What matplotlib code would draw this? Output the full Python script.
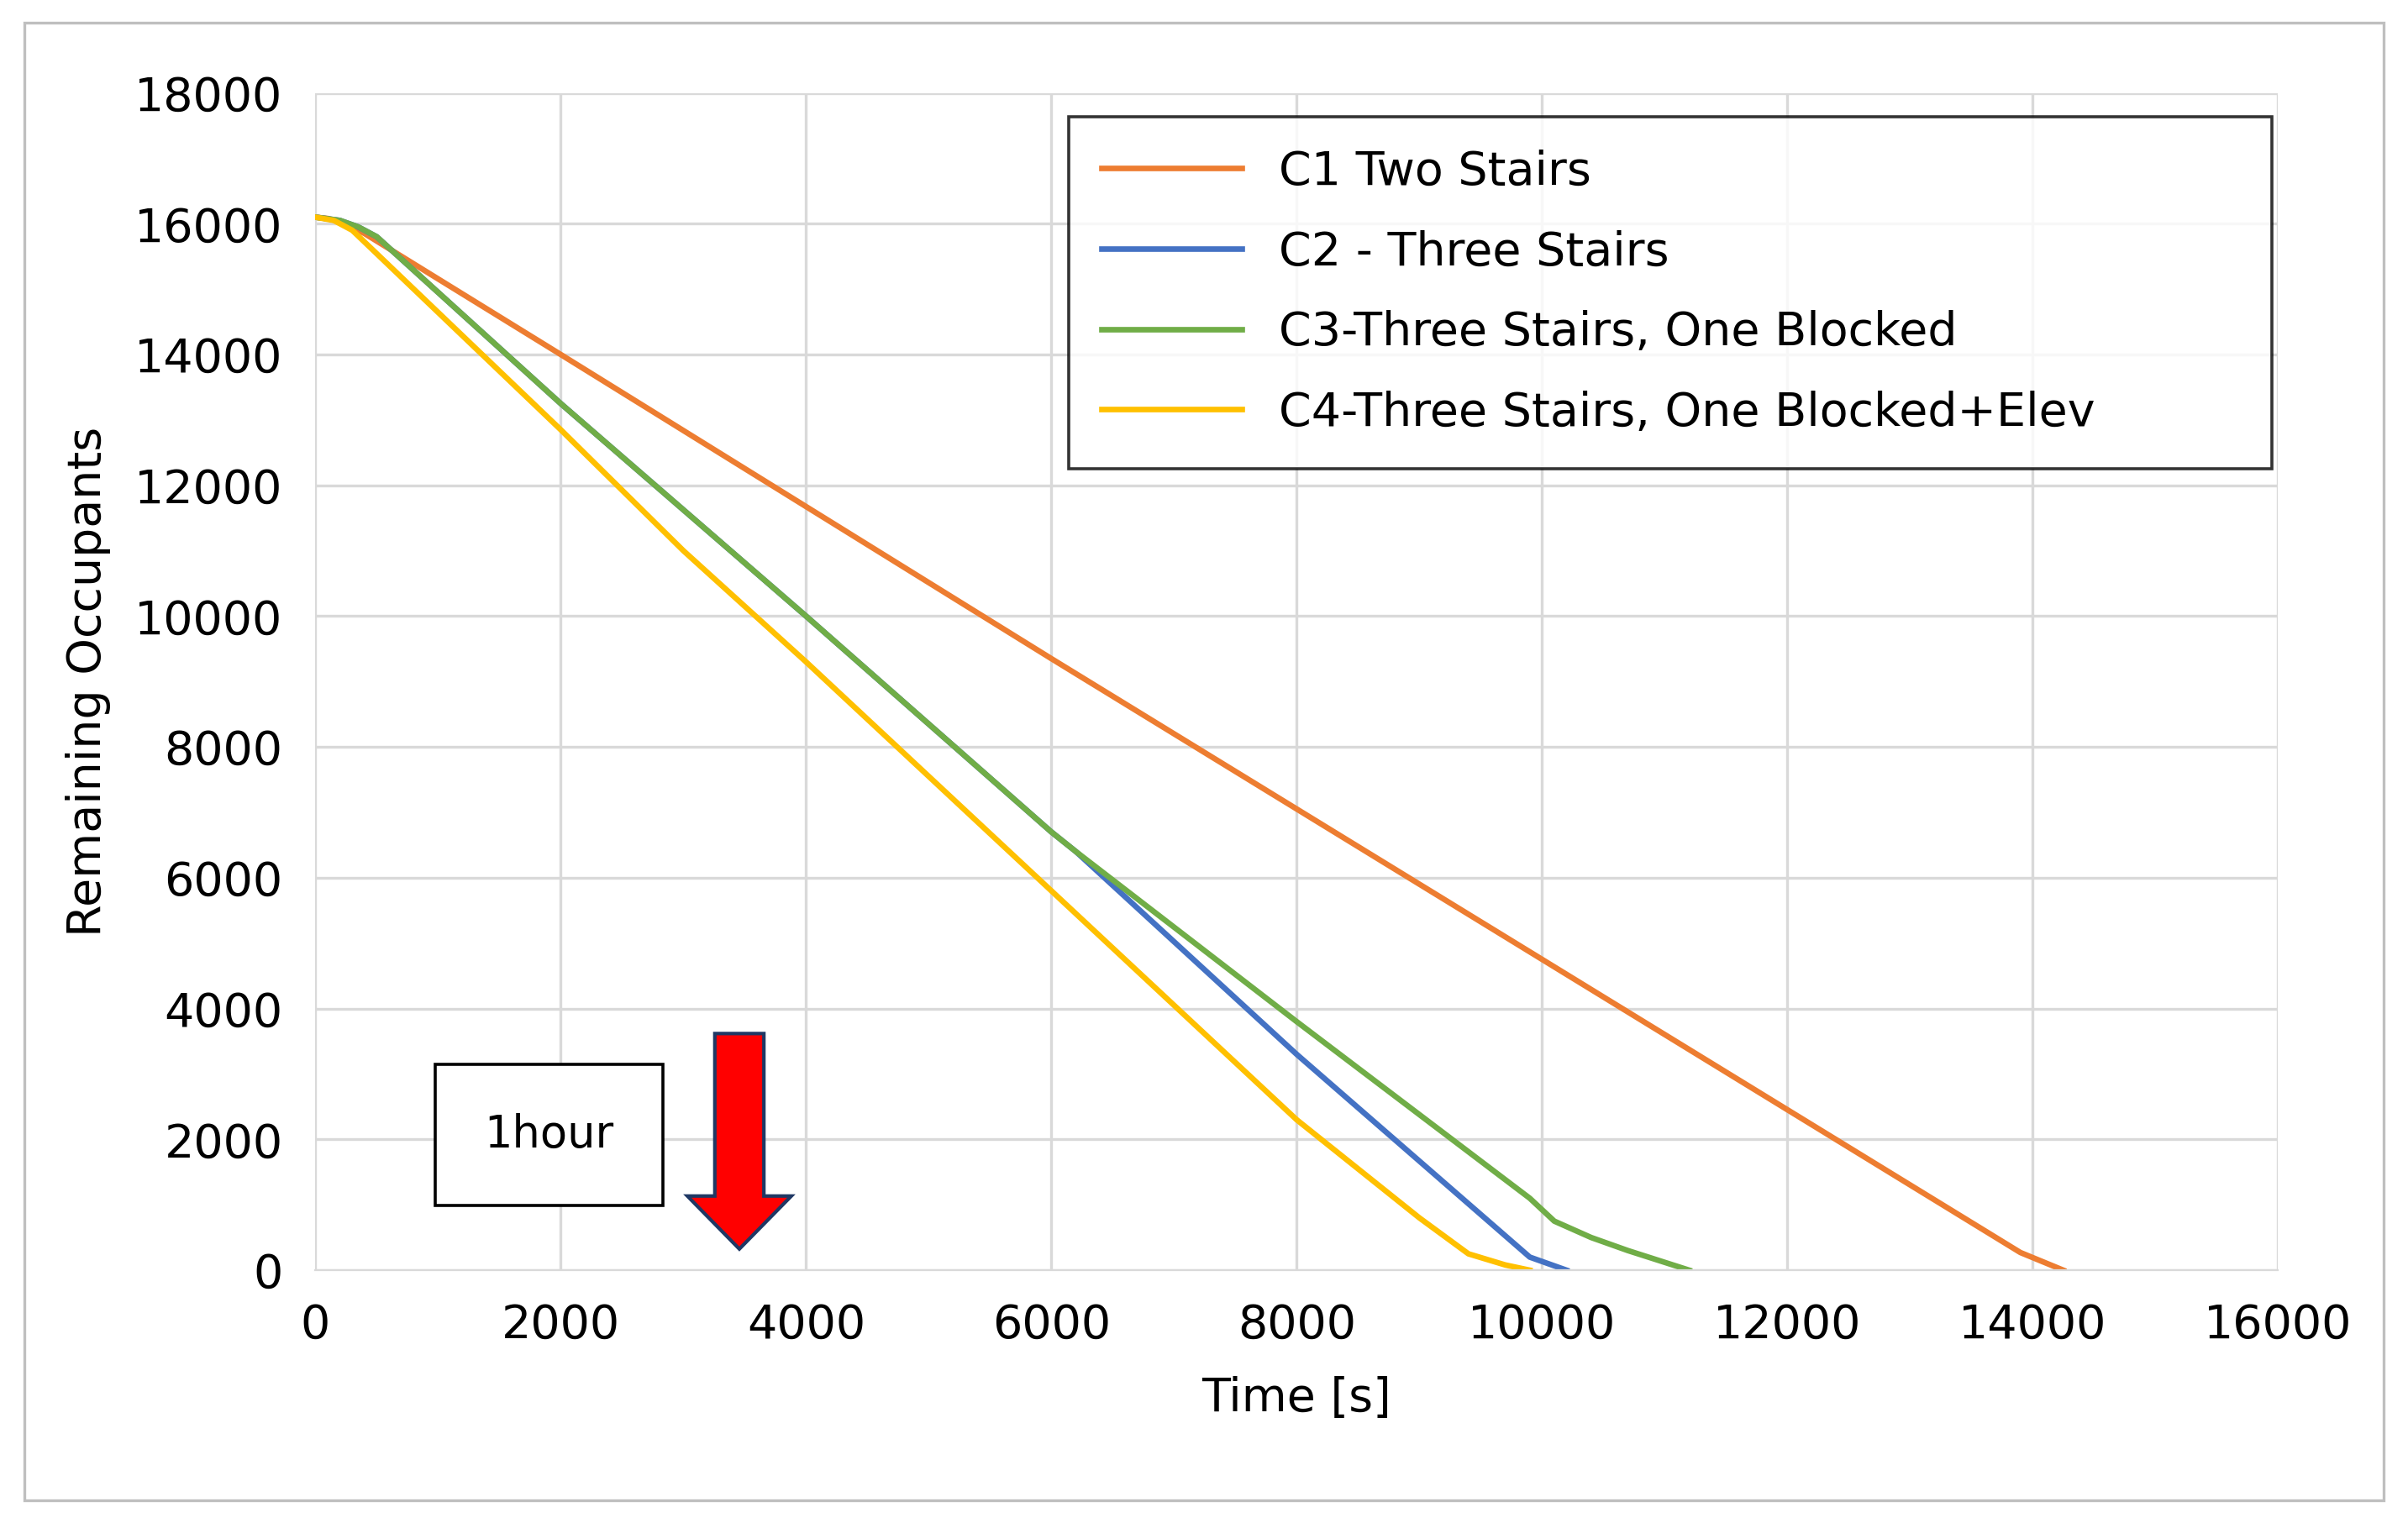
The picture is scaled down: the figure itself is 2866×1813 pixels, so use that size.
import matplotlib
matplotlib.use("Agg")
import matplotlib.pyplot as plt
from matplotlib.patches import FancyArrow, Rectangle

c1_t = [0, 100, 250, 400, 2000, 6000, 13900, 14250]
c1_y = [16100, 16080, 16000, 15850, 14000, 9350, 270, 0]
c2_t = [0, 200, 350, 500, 2000, 4000, 6000, 6200, 8000, 9900, 10200]
c2_y = [16100, 16050, 15950, 15800, 13250, 10000, 6700, 6400, 3300, 200, 0]
c3_t = [0, 200, 350, 500, 2000, 4000, 6000, 6200, 8000, 9900, 10100, 10400, 10700, 11200]
c3_y = [16100, 16050, 15950, 15800, 13250, 10000, 6700, 6400, 3800, 1100, 750, 500, 300, 0]
c4_t = [0, 150, 300, 2000, 3000, 4000, 6000, 8000, 9000, 9400, 9700, 9900]
c4_y = [16100, 16050, 15900, 12850, 11000, 9300, 5800, 2300, 800, 250, 80, 0]
labels = ["C1 Two Stairs", "C2 - Three Stairs", "C3-Three Stairs, One Blocked",
          "C4-Three Stairs, One Blocked+Elev"]
colors = ["#ED7D31", "#4472C4", "#70AD47", "#FFC000"]

fig = plt.figure(figsize=(14.33, 9.065), dpi=200)
fig.patches.append(Rectangle((0.01, 0.015), 0.98, 0.97, transform=fig.transFigure,
                             fill=False, edgecolor="#BFBFBF", lw=1.2))
ax = fig.add_axes([0.131, 0.166, 0.815, 0.773])
for t, y, l, c in zip([c1_t, c2_t, c3_t, c4_t], [c1_y, c2_y, c3_y, c4_y], labels, colors):
    ax.plot(t, y, color=c, lw=2.4, label=l)
ax.set_xlim(0, 16000)
ax.set_ylim(0, 18000)
ax.set_xticks(range(0, 16001, 2000))
ax.set_yticks(range(0, 18001, 2000))
ax.grid(color="#D9D9D9", lw=1.2)
for s in ax.spines.values():
    s.set_visible(False)
ax.spines["bottom"].set_visible(True)
ax.spines["bottom"].set_color("#D9D9D9")
ax.tick_params(length=0, labelsize=20, pad=14)
ax.set_xlabel("Time [s]", fontsize=20, labelpad=12)
ax.set_ylabel("Remaining Occupants", fontsize=20, labelpad=10)
leg = ax.legend(loc="lower left", bbox_to_anchor=(0.384, 0.681, 0.613, 0.315), mode="expand",
                fontsize=20, frameon=True, fancybox=False, edgecolor="black",
                handlelength=3.0, borderpad=0.7, labelspacing=0.75, borderaxespad=0)
leg.get_frame().set_linewidth(1.3)
ax.text(0.119, 0.115, "1hour", transform=ax.transAxes, fontsize=19, va="center", ha="center",
        bbox=dict(boxstyle="square,pad=1.1", fc="white", ec="black", lw=1.3))
ax.add_patch(FancyArrow(0.216, 0.201, 0, -0.183, width=0.025, head_width=0.053,
                        head_length=0.045, length_includes_head=True,
                        transform=ax.transAxes, fc="#FF0000", ec="#1F3864", lw=1.5,
                        zorder=5))
fig.savefig("out.png", dpi=200)
